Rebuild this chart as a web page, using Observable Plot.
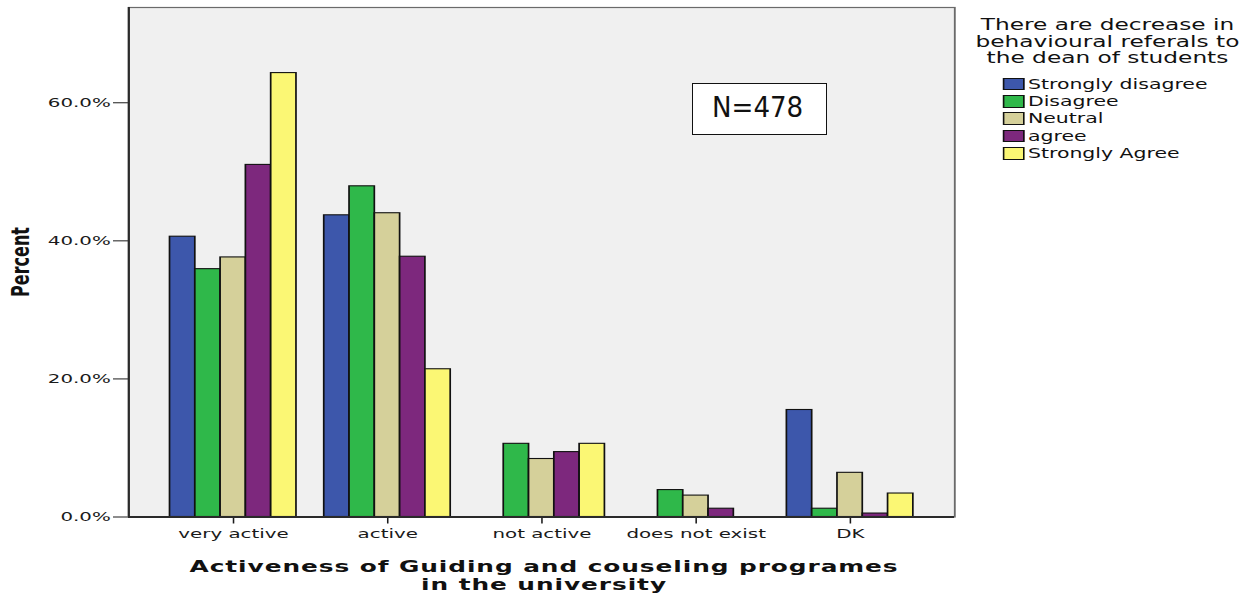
<!DOCTYPE html>
<html>
<head>
<meta charset="utf-8">
<script src="https://cdn.jsdelivr.net/npm/d3@7"></script>
<script src="https://cdn.jsdelivr.net/npm/@observablehq/plot@0.6"></script>
<style>
  html, body { margin: 0; padding: 0; background: #fff; }
  body { width: 1255px; height: 595px; position: relative; overflow: hidden; font-family: "DejaVu Sans", sans-serif; color: #111; }
  /* the original SPSS chart is horizontally stretched; reproduce with a uniform scaleX */
  #stage { position: absolute; left: 0; top: 0; width: 810px; height: 595px; transform: scaleX(1.55); transform-origin: 0 0; }
  #chart { position: absolute; left: 0; top: 0; }
  #ylabel { position: absolute; left: 12.9px; top: 262px; transform: translate(-50%, -50%) rotate(-90deg); font: bold 16px "DejaVu Sans", sans-serif; white-space: nowrap; }
  #xtitle { position: absolute; left: 351px; top: 557.5px; transform: translateX(-50%); font: bold 16px "DejaVu Sans", sans-serif; letter-spacing: 0.6px; line-height: 18.7px; text-align: center; white-space: nowrap; }
  #legend { position: absolute; left: 629px; top: 17px; width: 171px; }
  #legend .title { font-size: 15px; line-height: 16.5px; text-align: center; white-space: nowrap; }
  #legend .items { position: absolute; left: 18.1px; top: 58.5px; }
  #legend .item { display: flex; align-items: center; height: 17.3px; font-size: 13.2px; white-space: nowrap; }
  #legend .sw { width: 11.5px; height: 10.5px; border: 1px solid #111; margin-right: 2.6px; flex: none; }
  #nbox { position: absolute; left: 692px; top: 83px; width: 135px; height: 52px; box-sizing: border-box; border: 1.5px solid #111; background: #fff; }
  #nbox span { position: absolute; left: 19px; top: 6px; font: 29px "Liberation Sans Narrow", "DejaVu Sans Condensed", sans-serif; line-height: 34px; white-space: nowrap; }
</style>
</head>
<body>
<div id="stage">
  <div id="chart"></div>
  <div id="ylabel"></div>
  <div id="xtitle"></div>
  <div id="legend"><div class="title"></div><div class="items"></div></div>
</div>
<div id="nbox"><span></span></div>
<script>
// ---- data ----
const categories = ["very active", "active", "not active", "does not exist", "DK"];
const seriesNames = ["Strongly disagree", "Disagree", "Neutral", "agree", "Strongly Agree"];
const stronglyDisagree = [40.6, 43.7, 0, 0, 15.5];
const disagree = [35.9, 47.9, 10.6, 3.9, 1.2];
const neutral = [37.6, 44.0, 8.4, 3.1, 6.4];
const agree = [51.0, 37.7, 9.4, 1.2, 0.5];
const stronglyAgree = [64.3, 21.4, 10.6, 0, 3.4];
const seriesColors = ["#3d57ab", "#2fb84a", "#d5d09a", "#7d287d", "#fbf774"];
const yTicks = [0, 20, 40, 60];
const legendTitle = ["There are decrease in", "behavioural referals to", "the dean of students"];
const xTitle = ["Activeness of Guiding and couseling programes", "in the university"];
const yTitle = "Percent";
const nLabel = "N=478";

// ---- build table ----
const seriesValues = [stronglyDisagree, disagree, neutral, agree, stronglyAgree];
const groupWidth = 0.82;
const barWidth = groupWidth / seriesNames.length;
const data = [];
seriesNames.forEach((s, j) => {
  categories.forEach((c, i) => {
    const x1 = i - groupWidth / 2 + j * barWidth;
    data.push({category: c, series: s, value: seriesValues[j][i], x1, x2: x1 + barWidth});
  });
});
const xDomain = [-0.679, 4.677];

const chart = Plot.plot({
  width: 622,
  height: 545,
  marginLeft: 82.6,
  marginRight: 6.5,
  marginTop: 7,
  marginBottom: 28.5,
  style: {fontFamily: "DejaVu Sans, sans-serif", fontSize: "12.8px", color: "#1a1a1a", background: "transparent"},
  x: {domain: xDomain, ticks: d3.range(categories.length), tickFormat: i => categories[i], tickSize: 7, tickPadding: 5, label: null},
  y: {domain: [0, 73.8], ticks: yTicks, tickFormat: d => d.toFixed(1) + "%", tickSize: 9.7, tickPadding: 1.9, label: null},
  color: {domain: seriesNames, range: seriesColors},
  marks: [
    Plot.frame({fill: "#f0f0f0", stroke: "#6a6a6a", strokeWidth: 1.2}),
    Plot.rect(data, {filter: d => d.value > 0, x1: "x1", x2: "x2", y1: 0, y2: "value", fill: "series", stroke: "#111", strokeWidth: 1.1}),
    Plot.ruleY([0], {stroke: "#2a2a2a", strokeWidth: 2}),
    Plot.ruleX([xDomain[0]], {stroke: "#2a2a2a", strokeWidth: 1.4})
  ]
});
document.getElementById("chart").append(chart);

document.getElementById("ylabel").textContent = yTitle;
document.getElementById("xtitle").innerHTML = xTitle.map(t => `<div>${t}</div>`).join("");
document.querySelector("#legend .title").innerHTML = legendTitle.map(t => `<div>${t}</div>`).join("");
document.querySelector("#legend .items").innerHTML = seriesNames.map((s, j) =>
  `<div class="item"><span class="sw" style="background:${seriesColors[j]}"></span><span>${s}</span></div>`).join("");
document.querySelector("#nbox span").textContent = nLabel;
</script>
</body>
</html>
